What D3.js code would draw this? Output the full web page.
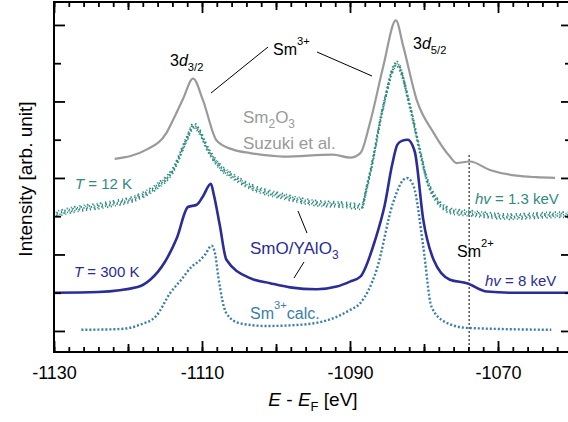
<!DOCTYPE html>
<html><head><meta charset="utf-8">
<script src="https://cdn.jsdelivr.net/npm/d3@7"></script>
<style>
html,body{margin:0;padding:0;background:#fff;}
svg{display:block;font-family:"Liberation Sans",Arial,Helvetica,sans-serif;}
</style></head><body>
<svg id="c" width="568" height="422"></svg>
<script>
// ---- data (binding energy E - EF in eV, intensity in arb. units) ----
const xTickLabels = [-1130, -1110, -1090, -1070];
const yTicks = [0, 1, 2, 3, 4, 5, 6, 7, 8];

const sm2o3E = [-1121.8,-1117.5,-1114.8,-1113.9,-1112.6,-1111.2,-1109.9,-1108.0,-1105.8,-1103.5,-1099.0,-1092.3,-1090.0,-1088.6,-1087.3,-1085.5,-1083.8,-1082.8,-1081.0,-1078.7,-1076.5,-1075.6,-1073.8,-1071.1,-1067.5,-1064.8,-1062.3];
const sm2o3I = [4.50,4.74,5.18,5.52,6.05,6.60,6.05,4.97,4.74,4.65,4.56,4.61,4.53,4.65,5.44,6.92,8.12,7.44,6.05,5.18,4.56,4.39,4.43,4.21,4.06,4.02,4.00];

const lowTE = [-1130,-1127.4,-1122.9,-1118.4,-1116.1,-1113.9,-1112.1,-1111.1,-1110.3,-1109.4,-1107.6,-1105.8,-1103.5,-1099.0,-1094.5,-1090.9,-1088.4,-1087.8,-1087.2,-1085.5,-1083.7,-1081.9,-1080.5,-1079.6,-1078.3,-1076.0,-1073.8,-1068.4,-1061.6,-1060];
const lowTI = [3.04,3.17,3.30,3.52,3.78,4.21,5.00,5.37,5.20,4.82,4.30,4.04,3.78,3.52,3.34,3.30,3.25,3.70,4.20,5.87,6.98,5.87,4.66,3.95,3.43,3.12,3.08,2.99,3.04,3.03];

const hardE = [-1130,-1124.0,-1118.7,-1117.0,-1115.0,-1113.4,-1111.9,-1110.7,-1109.9,-1108.8,-1108.4,-1107.6,-1106.7,-1103.5,-1100.8,-1098.1,-1094.5,-1091.8,-1090.0,-1088.6,-1086.6,-1085.3,-1084.3,-1083.6,-1083.0,-1082.2,-1081.6,-1081.2,-1080.1,-1078.7,-1076.5,-1074.2,-1071.5,-1068.4,-1060];
const hardI = [1.00,1.02,1.15,1.34,1.81,2.43,3.24,3.30,3.51,3.85,3.56,2.77,1.86,1.38,1.25,1.14,1.09,1.16,1.29,1.42,2.38,3.30,4.35,4.87,4.97,5.00,4.87,4.65,2.91,1.86,1.34,1.25,1.03,1.00,1.00];

const calcE = [-1126.3,-1121.1,-1118.4,-1116.2,-1114.3,-1112.8,-1111.4,-1110.5,-1109.6,-1108.7,-1108.2,-1107.8,-1106.7,-1104.9,-1101.3,-1096.8,-1091.8,-1090.0,-1088.6,-1086.4,-1084.2,-1082.8,-1082.3,-1081.4,-1080.1,-1079.0,-1077.2,-1074.2,-1062.8];
const calcI = [0.03,0.05,0.16,0.39,0.99,1.34,1.68,1.81,1.99,2.23,1.99,1.42,0.46,0.20,0.13,0.16,0.37,0.55,0.73,1.60,3.34,3.95,4.00,3.78,2.21,0.64,0.24,0.08,0.03];

const sm2plusE = -1073.9;

// ---- layout ----
const m = {l: 54, r: 572, t: 2, b: 352};
const x = d3.scaleLinear().domain([-1130, -1060]).range([m.l, m.r]);
const y = d3.scaleLinear().domain([-0.55, 8.6]).range([m.b, m.t]);
const svg = d3.select('#c');

const teal = '#2f8a80', blue = '#2a2c98', calcCol = '#3a7ea8', grey = '#9a9a9a';

svg.append('defs').append('clipPath').attr('id', 'clip')
  .append('rect').attr('x', m.l).attr('y', m.t).attr('width', m.r - m.l).attr('height', m.b - m.t);

const zip = (a, b) => a.map((v, i) => [v, b[i]]);
const line = d3.line().x(d => x(d[0])).y(d => y(d[1])).curve(d3.curveMonotoneX);
const plot = svg.append('g').attr('clip-path', 'url(#clip)');

// Sm2+ marker line
plot.append('line').attr('x1', x(sm2plusE)).attr('x2', x(sm2plusE))
  .attr('y1', y(4.6)).attr('y2', m.b)
  .attr('stroke', '#000').attr('stroke-width', 1).attr('stroke-dasharray', '2,2');

plot.append('path').attr('d', line(zip(sm2o3E, sm2o3I)))
  .attr('fill', 'none').attr('stroke', grey).attr('stroke-width', 2.2);

// low-T soft x-ray data: speckled band drawn as offset dotted strokes
const lowPath = line(zip(lowTE, lowTI));
[[-2.6, '1.3,3.1,1,2.3,1.6,3.7', 0], [-1.2, '1.1,2.4,1.5,3.3', 1.2], [0, '1.4,2.2,1.1,2.9', 0.4],
 [1.3, '1.2,2.8,1.6,2.1', 2.1], [2.7, '1,3.4,1.4,2.6,1.2,3', 0.9]].forEach(([dy, dash, off]) => {
  plot.append('path').attr('d', lowPath).attr('transform', `translate(0,${dy})`)
    .attr('fill', 'none').attr('stroke', teal).attr('stroke-width', 1.7)
    .attr('stroke-dasharray', dash).attr('stroke-dashoffset', off);
});

plot.append('path').attr('d', line(zip(hardE, hardI)))
  .attr('fill', 'none').attr('stroke', blue).attr('stroke-width', 2.6);

plot.append('path').attr('d', line(zip(calcE, calcI)))
  .attr('fill', 'none').attr('stroke', calcCol).attr('stroke-width', 2.4)
  .attr('stroke-dasharray', '2,2');

// ---- axes ----
const minorX = d3.range(-1130, -1059, 2);
const medX = [-1120, -1100, -1080, -1060];
function styleAxis(g) {
  g.select('.domain').remove();
  g.selectAll('line').attr('stroke', '#000').attr('stroke-width', 1.8);
  g.selectAll('text').attr('font-size', 18).attr('fill', '#000')
    .attr('font-family', '"Liberation Sans",Arial,sans-serif');
}
[[minorX, 5], [medX, 8], [xTickLabels, 11]].forEach(([vals, len], i) => {
  svg.append('g').attr('transform', `translate(0,${m.b})`)
    .call(d3.axisBottom(x).tickValues(vals).tickSize(-len).tickPadding(i === 2 ? 14 : 0)
      .tickFormat(i === 2 ? (d => String(d)) : ''))
    .call(styleAxis);
  svg.append('g').attr('transform', `translate(0,${m.t})`)
    .call(d3.axisTop(x).tickValues(vals).tickSize(-len).tickFormat(''))
    .call(styleAxis);
});
const yLong = yTicks.filter(d => d % 2 === 0), yShort = yTicks.filter(d => d % 2 === 1);
[[yLong, 11], [yShort, 7]].forEach(([vals, len]) => {
  svg.append('g').attr('transform', `translate(${m.l},0)`)
    .call(d3.axisLeft(y).tickValues(vals).tickSize(-len).tickFormat(''))
    .call(styleAxis);
  svg.append('g').attr('transform', `translate(${m.r},0)`)
    .call(d3.axisRight(y).tickValues(vals).tickSize(-len).tickFormat(''))
    .call(styleAxis);
});
svg.append('rect').attr('x', m.l).attr('y', m.t).attr('width', m.r - m.l).attr('height', m.b - m.t)
  .attr('fill', 'none').attr('stroke', '#000').attr('stroke-width', 2);

// axis titles
svg.append('text').attr('transform', `translate(32,${(m.t + m.b) / 2 + 2}) rotate(-90)`)
  .attr('text-anchor', 'middle').attr('font-size', 19).text('Intensity [arb. unit]');
const xt = svg.append('text').attr('x', 313).attr('y', 406).attr('text-anchor', 'middle').attr('font-size', 19);
xt.append('tspan').attr('font-style', 'italic').text('E');
xt.append('tspan').text(' - ');
xt.append('tspan').attr('font-style', 'italic').text('E');
xt.append('tspan').attr('font-size', 13).attr('dy', 5).text('F');
xt.append('tspan').attr('dy', -5).text(' [eV]');

// ---- annotations ----
function label(px, py, parts, size, color) {
  const t = svg.append('text').attr('x', px).attr('y', py).attr('font-size', size).attr('fill', color);
  let cur = 0;
  parts.forEach(p => {
    const s = t.append('tspan').text(p.t);
    const target = p.sub ? 5 : p.sup ? -10 : 0;
    if (target !== cur) { s.attr('dy', target - cur); cur = target; }
    if (p.sub || p.sup) s.attr('font-size', size * 0.7);
    if (p.i) s.attr('font-style', 'italic');
  });
  return t;
}
label(170, 66, [{t: '3'}, {t: 'd', i: 1}, {t: '3/2', sub: 1}], 16, '#000');
label(413, 49, [{t: '3'}, {t: 'd', i: 1}, {t: '5/2', sub: 1}], 16, '#000');
label(273, 55, [{t: 'Sm'}, {t: '3+', sup: 1}], 16, '#000');
label(243, 123, [{t: 'Sm'}, {t: '2', sub: 1}, {t: 'O'}, {t: '3', sub: 1}], 17, grey);
label(243, 149, [{t: 'Suzuki et al.'}], 17, grey);
label(75, 189, [{t: 'T', i: 1}, {t: ' = 12 K'}], 15, teal);
label(475, 204, [{t: 'hv', i: 1}, {t: ' = 1.3 keV'}], 15, teal);
label(74, 277, [{t: 'T', i: 1}, {t: ' = 300 K'}], 15, blue);
label(250, 254, [{t: 'SmO/YAlO'}, {t: '3', sub: 1}], 17, blue);
label(250, 319, [{t: 'Sm'}, {t: '3+', sup: 1}, {t: 'calc.'}], 16, calcCol);
label(457, 257, [{t: 'Sm'}, {t: '2+', sup: 1}], 16, '#000');
label(485, 286, [{t: 'hv', i: 1}, {t: ' = 8 keV'}], 15, blue);

const ptr = [[211, 93, 268, 47], [317, 52, 372, 76], [298, 211, 307, 233], [304, 262, 294, 278]];
ptr.forEach(([a, b, c, d]) => svg.append('line').attr('x1', a).attr('y1', b).attr('x2', c).attr('y2', d)
  .attr('stroke', '#000').attr('stroke-width', 1));
</script>
</body></html>
